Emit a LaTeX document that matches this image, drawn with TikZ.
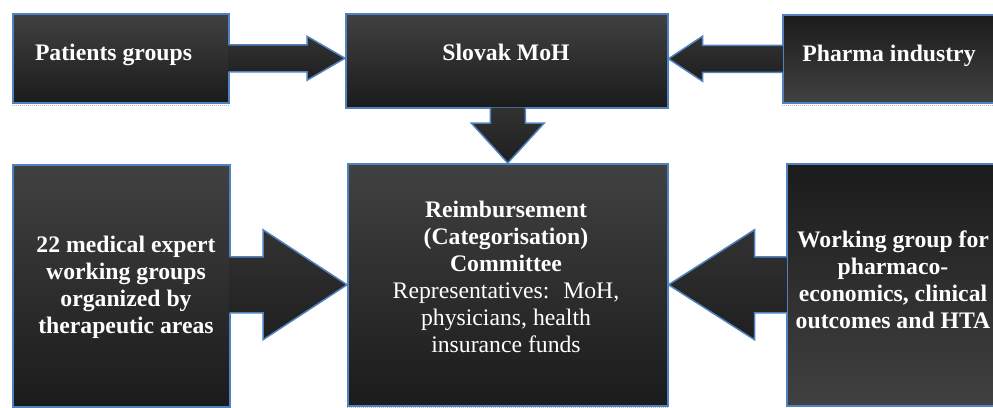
\documentclass[tikz,border=0pt]{standalone}
\usepackage{fontspec}
\setmainfont{Liberation Serif}
\usetikzlibrary{calc}

\definecolor{edgeblue}{HTML}{5182C0}
\definecolor{boxlite}{HTML}{414141}
\definecolor{boxdark}{HTML}{1B1B1B}
\definecolor{arrlite}{HTML}{323232}
\definecolor{arrdark}{HTML}{1F1F1F}

\tikzset{
  box/.style={draw=edgeblue, line width=1.5bp, inner sep=0pt, anchor=north west},
  fadedown/.style={top color=boxlite, bottom color=boxdark},
  fadeup/.style={top color=boxdark, bottom color=boxlite},
  lblbase/.style={text=white, inner sep=0pt, align=center,
    font=\fontsize{23.8}{27.1}\selectfont},
  lbl/.style={lblbase, font=\fontsize{23.8}{27.1}\selectfont\bfseries},
  arrfill/.style={top color=arrlite, bottom color=arrdark},
  arredge/.style={draw=edgeblue, line width=1.5bp, line join=miter},
  seam/.style={draw=gray!55, line width=1.3bp, dash pattern=on 1bp off 1bp}
}

% block arrow, horizontal: #1 source anchor, #2 tip, #3 half shaft, #4 half head, #5 signed head length
\newcommand\hblock[5]{%
  \shade[arrfill] let \p1=(#1), \p2=(#2) in
    ({\x1-(sign(#5))*0.8bp},{\y2+#3}) -- ({\x2-(#5)},{\y2+#3}) -- ({\x2-(#5)},{\y2+#4})
    -- (\p2) -- ({\x2-(#5)},{\y2-#4}) -- ({\x2-(#5)},{\y2-#3})
    -- ({\x1-(sign(#5))*0.8bp},{\y2-#3}) -- cycle;
  \draw[arredge] let \p1=(#1), \p2=(#2) in
    ({\x1-(sign(#5))*0.8bp},{\y2+#3}) -- ({\x2-(#5)},{\y2+#3}) -- ({\x2-(#5)},{\y2+#4})
    -- (\p2) -- ({\x2-(#5)},{\y2-#4}) -- ({\x2-(#5)},{\y2-#3})
    -- ({\x1-(sign(#5))*0.8bp},{\y2-#3});
}
% block arrow, pointing down: same arguments, head length measured upwards from the tip
\newcommand\vblock[5]{%
  \shade[arrfill] let \p1=(#1), \p2=(#2) in
    ({\x2+#3},{\y1+0.8bp}) -- ({\x2+#3},{\y2+#5}) -- ({\x2+#4},{\y2+#5})
    -- (\p2) -- ({\x2-#4},{\y2+#5}) -- ({\x2-#3},{\y2+#5})
    -- ({\x2-#3},{\y1+0.8bp}) -- cycle;
  \draw[arredge] let \p1=(#1), \p2=(#2) in
    ({\x2+#3},{\y1+0.8bp}) -- ({\x2+#3},{\y2+#5}) -- ({\x2+#4},{\y2+#5})
    -- (\p2) -- ({\x2-#4},{\y2+#5}) -- ({\x2-#3},{\y2+#5})
    -- ({\x2-#3},{\y1+0.8bp});
}

\begin{document}
\begin{tikzpicture}[x=1bp, y=-1bp]
  \fill[white] (0,0) rectangle (993,407);
  \useasboundingbox (0,0) rectangle (993,407);

  % boxes
  \node[box, fadedown, minimum width=216bp, minimum height=89bp] (pat) at (12,13) {};
  \node[box, fadedown, minimum width=322bp, minimum height=94bp] (moh) at (345,13) {};
  \node[box, fadeup,   minimum width=214bp, minimum height=88bp] (pha) at (782,14) {};
  \node[box, fadedown, minimum width=217bp, minimum height=242bp] (med) at (12,164) {};
  \node[box, fadedown, minimum width=320bp, minimum height=242bp] (com) at (347,163) {};
  \node[box, fadeup,   minimum width=210bp, minimum height=242bp] (wg) at (786,163) {};

  % grey seams under some boxes
  \draw[seam] ([yshift=-2bp]pat.south west) -- ([yshift=-2bp]pat.south east);
  \draw[seam] ([yshift=-2bp]pha.south west) -- ([yshift=-2bp]pha.south east);
  \draw[seam] ([yshift=-1.5bp]com.south west) -- ([yshift=-1.5bp]com.south east);

  % arrow tips
  \coordinate (tipA) at (moh.west |- pat.east);
  \coordinate (tipB) at (moh.east |- pha.east);
  \coordinate (tipC) at (com.north);
  \coordinate (tipD) at (com.west);
  \coordinate (tipE) at (com.east);

  % block arrows
  \hblock{pat.east}{tipA}{13.5bp}{22bp}{38bp}
  \hblock{pha.west}{tipB}{13.5bp}{22.5bp}{-34bp}
  \vblock{moh.south}{tipC}{17.5bp}{36.5bp}{40bp}
  \hblock{med.east}{tipD}{28bp}{55bp}{84bp}
  \hblock{wg.west}{tipE}{28bp}{55bp}{-86bp}

  % labels
  \node[lbl, anchor=base] (patT) at (113.5,60) {Patients groups};
  \node[lbl, anchor=base] (mohT) at (506,60) {Slovak MoH};
  \node[lbl, anchor=base] (phaT) at (889,61) {Pharma industry};
  \node[lbl] (medT) at (126,287) {22 medical expert\\working groups\\organized by\\therapeutic areas};
  \node[lbl] (wgT) at (893,280) {Working group for\\pharmaco-\\economics, clinical\\outcomes and HTA};
  \node[lblbase] (comT) at (506,277) {\textbf{Reimbursement}\\\textbf{(Categorisation)}\\\textbf{Committee}\\Representatives:~ MoH,\\physicians, health\\insurance funds};
\end{tikzpicture}
\end{document}
